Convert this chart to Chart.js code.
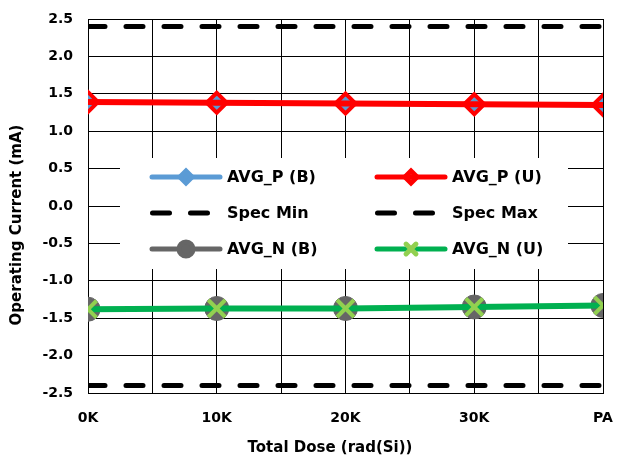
<!DOCTYPE html>
<html>
<head>
<meta charset="utf-8">
<script src="https://cdn.jsdelivr.net/npm/chart.js@4/dist/chart.umd.min.js"></script>
<style>
  body { margin: 0; background: #fff; }
  #wrap { width: 619px; height: 460px; }
</style>
</head>
<body>
<div id="wrap"><canvas id="doseChart" width="619" height="460"></canvas></div>
<script>
// data
const doseLabels = ['0K', '10K', '20K', '30K', 'PA']
const avgPB = [1.38, 1.37, 1.36, 1.35, 1.34]
const avgPU = [1.39, 1.38, 1.37, 1.36, 1.35]
const specMin = [-2.4, -2.4, -2.4, -2.4, -2.4]
const specMax = [2.4, 2.4, 2.4, 2.4, 2.4]
const avgNB = [-1.38, -1.37, -1.37, -1.35, -1.33]
const avgNU = [-1.38, -1.37, -1.37, -1.35, -1.33]

const xTitle = 'Total Dose (rad(Si))'
const yTitle = 'Operating Current (mA)'

function pts(arr) {
  return arr.map((v, i) => ({ x: i, y: v }))
}

const fontFamily = '"DejaVu Sans", Verdana, sans-serif'
const font = { family: fontFamily, weight: 'bold', size: 14 }

// legend drawn inside the plot, two columns, plus the axis titles
const insideLegend = {
  id: 'insideLegend',
  afterDatasetsDraw(chart) {
    const ctx = chart.ctx
    ctx.save()
    ctx.fillStyle = '#fff'
    ctx.fillRect(120, 158, 448, 111)
    const cols = [150, 375]
    const rows = [177, 213, 249]
    chart.data.datasets.forEach((ds, i) => {
      const x = cols[i % 2]
      const y = rows[Math.floor(i / 2)]
      ctx.strokeStyle = ds.borderColor
      ctx.lineWidth = 5
      ctx.lineCap = 'round'
      ctx.beginPath()
      if (ds.borderDash) {
        ctx.setLineDash(ds.borderDash)
        ctx.moveTo(x + 2.5, y)
        ctx.lineTo(x + 59, y)
      } else {
        ctx.moveTo(x + 2, y)
        ctx.lineTo(x + 70, y)
      }
      ctx.stroke()
      ctx.setLineDash([])
      if (ds.legendPoint) {
        ctx.fillStyle = ds.pointBackgroundColor
        ctx.strokeStyle = ds.pointBorderColor
        Chart.helpers.drawPoint(ctx, {
          pointStyle: ds.pointStyle,
          radius: ds.legendPoint,
          borderWidth: ds.pointStyle === 'crossRot' ? 3 : 1,
          rotation: 0
        }, x + 36, y)
      }
      ctx.fillStyle = '#000'
      ctx.font = 'bold 16px ' + fontFamily
      ctx.textBaseline = 'middle'
      ctx.fillText(ds.label, x + 77, y + 1)
    })

    ctx.font = 'bold 15px ' + fontFamily
    ctx.textAlign = 'center'
    ctx.textBaseline = 'middle'
    ctx.fillText(xTitle, 330, 448)
    ctx.translate(17, 225)
    ctx.rotate(-Math.PI / 2)
    ctx.fillText(yTitle, 0, 0)
    ctx.restore()
  }
}

const datasets = [
  {
    label: 'AVG_P (B)', data: pts(avgPB), order: 2,
    borderColor: '#5B9BD5', borderWidth: 3,
    pointStyle: 'rectRot', pointRadius: 8, pointBackgroundColor: '#5B9BD5',
    pointBorderColor: '#5B9BD5', pointBorderWidth: 1, legendPoint: 6
  },
  {
    label: 'AVG_P (U)', data: pts(avgPU), order: 1,
    borderColor: '#FF0000', borderWidth: 6,
    pointStyle: 'rectRot', pointRadius: 10, pointBackgroundColor: 'rgba(0,0,0,0)',
    pointBorderColor: '#FF0000', pointBorderWidth: 4, legendPoint: 6
  },
  {
    label: 'Spec Min', data: pts(specMin), order: 3,
    borderColor: '#000', borderWidth: 5, borderDash: [17, 21],
    borderCapStyle: 'round', pointRadius: 0
  },
  {
    label: 'Spec Max', data: pts(specMax), order: 3,
    borderColor: '#000', borderWidth: 5, borderDash: [17, 21],
    borderCapStyle: 'round', pointRadius: 0
  },
  {
    label: 'AVG_N (B)', data: pts(avgNB), order: 5,
    borderColor: '#666666', borderWidth: 4,
    pointStyle: 'circle', pointRadius: 12, pointBackgroundColor: '#666666',
    pointBorderColor: '#666666', pointBorderWidth: 1, legendPoint: 7
  },
  {
    label: 'AVG_N (U)', data: pts(avgNU), order: 4,
    borderColor: '#00B050', borderWidth: 6,
    pointStyle: 'crossRot', pointRadius: 12, pointBackgroundColor: '#92D050',
    pointBorderColor: '#92D050', pointBorderWidth: 4, legendPoint: 7
  }
]

const config = {
  type: 'line',
  data: { datasets: datasets },
  options: {
    responsive: false,
    animation: false,
    layout: { padding: { top: 19, right: 12, left: 0, bottom: 0 } },
    plugins: {
      legend: { display: false },
      tooltip: { enabled: false }
    },
    scales: {
      x: {
        type: 'linear', min: 0, max: 4,
        afterFit: s => {
          s.height = 67
          s.paddingLeft = 0
          s.paddingRight = 0
        },
        grid: { color: '#000', lineWidth: 1, drawTicks: false },
        border: { color: '#000', width: 1 },
        ticks: {
          stepSize: 0.5, autoSkip: false, padding: 17, color: '#000', font: font,
          maxRotation: 0,
          callback: v => Number.isInteger(v) ? doseLabels[v] : ''
        }
      },
      y: {
        min: -2.5, max: 2.5,
        afterFit: s => {
          s.width = 88
          s.paddingTop = 0
          s.paddingBottom = 0
        },
        grid: { color: '#000', lineWidth: 1, drawTicks: false },
        border: { color: '#000', width: 1 },
        ticks: {
          stepSize: 0.5, padding: 15, color: '#000', font: font,
          callback: v => v.toFixed(1)
        }
      }
    }
  },
  plugins: [insideLegend]
}

const doseChart = new Chart(document.querySelector('#doseChart'), config)
</script>
</body>
</html>
